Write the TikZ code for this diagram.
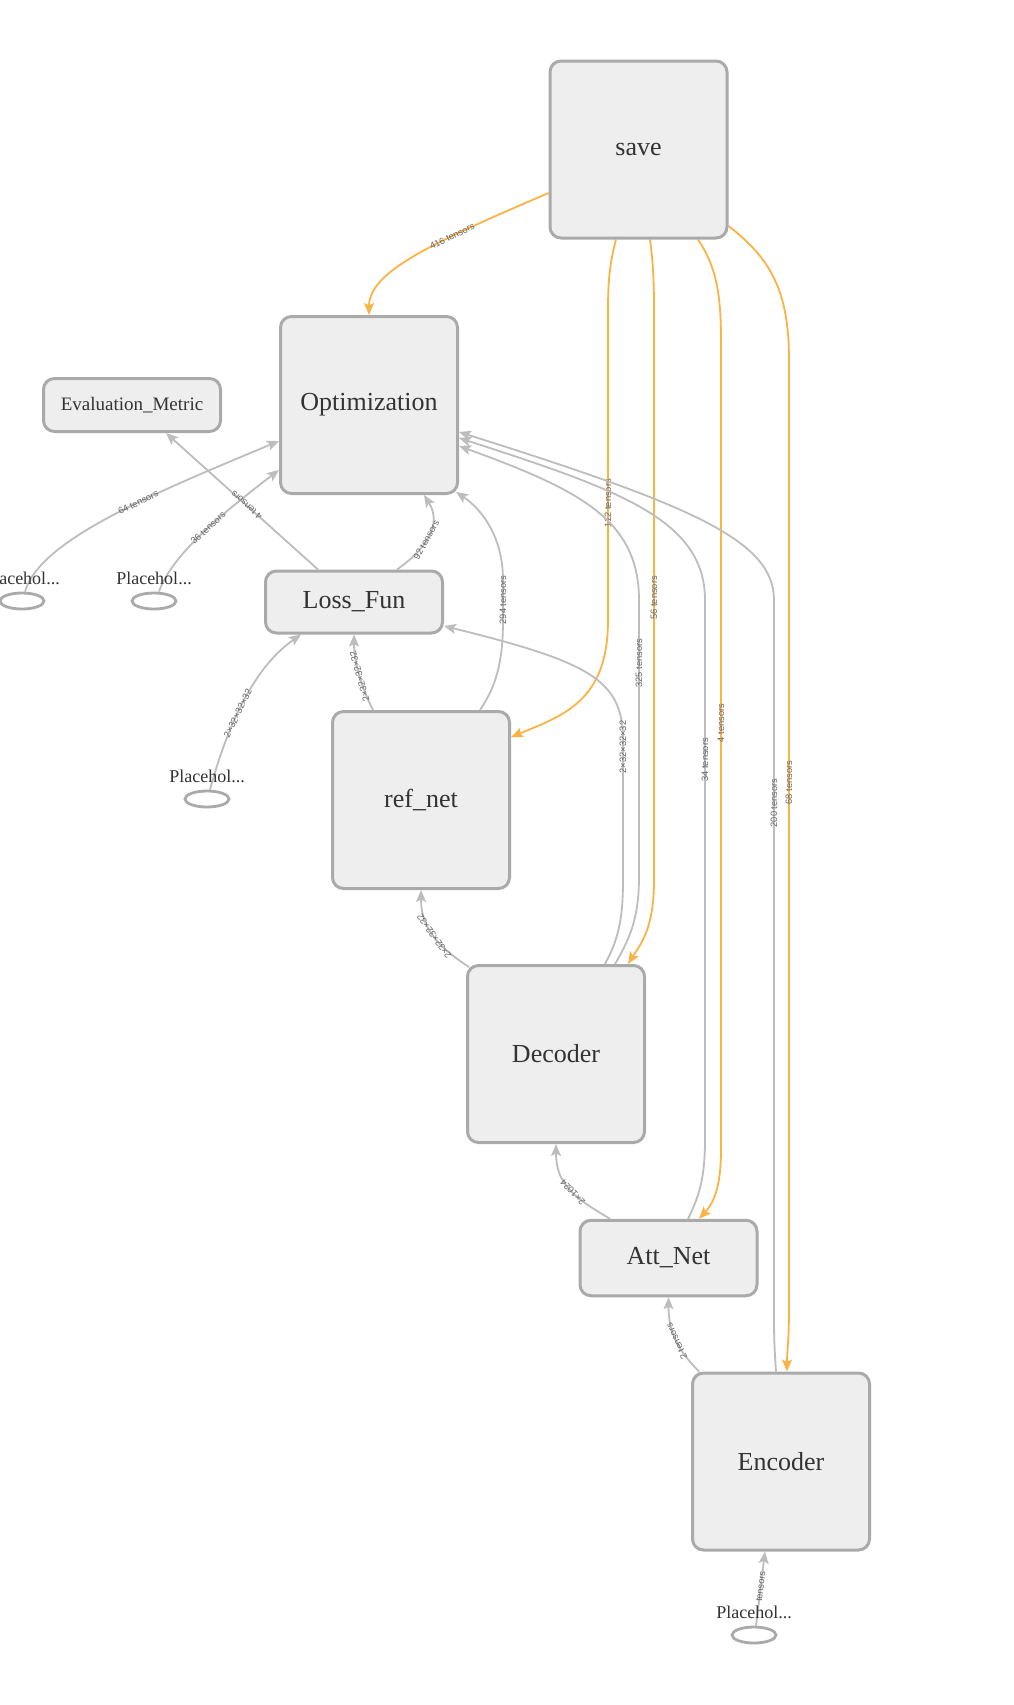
\documentclass[tikz,border=0pt]{standalone}
\usepackage{fontspec}
\setmainfont{Liberation Serif}
\newfontfamily\edgefont{Liberation Sans}
\usetikzlibrary{arrows.meta,shapes.geometric}

\pgfdeclarelayer{bg}
\pgfdeclarelayer{edges}
\pgfsetlayers{bg,edges,main}

\definecolor{boxfill}{HTML}{EEEEEE}
\definecolor{boxline}{HTML}{AAAAAA}
\definecolor{flow}{HTML}{BDBDBD}
\definecolor{refflow}{HTML}{FAB445}
\definecolor{nodetext}{HTML}{333333}
\definecolor{lbltext}{HTML}{666666}

\tikzset{
  opbox/.style={draw=boxline, fill=boxfill, line width=3pt, rounded corners=11pt,
    minimum width=177pt, minimum height=177pt, inner sep=0pt, text=nodetext,
    font=\fontsize{26}{30}\selectfont},
  phshape/.style={ellipse, draw=boxline, fill=white, line width=2.8pt,
    minimum width=44pt, minimum height=16pt, inner sep=0pt},
  phtext/.style={text=nodetext, font=\fontsize{18}{20}\selectfont, inner sep=0pt},
  tipshape/.tip={Stealth[length=12pt,width=10pt,inset=2.5pt]},
  flowedge/.style={draw=flow, line width=1.8pt, -tipshape},
  refedge/.style={draw=refflow, line width=1.8pt, tipshape-},
  lbl/.style={sloped, allow upside down, text=lbltext,
    font=\edgefont\fontsize{9.3}{10}\selectfont, inner sep=0pt},
}

\begin{document}
\begin{tikzpicture}[x=1pt, y=-1pt]
\useasboundingbox (0,0) rectangle (1013,1705);
\begin{pgfonlayer}{bg}
  \fill[white] (0,0) rectangle (1013,1705);
\end{pgfonlayer}

% operation boxes
\node[opbox] (save)   at (638.5,149.5) {save};
\node[opbox] (opt)    at (369,405)     {Optimization};
\node[opbox, minimum height=53pt, font=\fontsize{19}{21}\selectfont]
             (evalm)  at (132,405)     {Evaluation\_Metric};
\node[opbox, minimum height=62pt] (loss) at (354,602) {Loss\_Fun};
\node[opbox] (refnet) at (421,800)     {ref\_net};
\node[opbox] (dec)    at (556,1054)    {Decoder};
\node[opbox, minimum height=75.5pt] (att) at (668.5,1258) {Att\_Net};
\node[opbox] (enc)    at (781,1461.5)  {Encoder};

% placeholders
\node[phshape] (ph1) at (22,601) {};
\node[phtext]  (ph1l) at (22,578) {Placehol...};
\node[phshape] (ph2) at (154,601) {};
\node[phtext]  (ph2l) at (154,578) {Placehol...};
\node[phshape] (ph3) at (207,799) {};
\node[phtext]  (ph3l) at (207,776) {Placehol...};
\node[phshape] (ph4) at (754,1635) {};
\node[phtext]  (ph4l) at (754,1612) {Placehol...};

\begin{pgfonlayer}{edges}
% reference edges into save
\draw[refedge] (opt.north) .. controls (369,270) and (440,240) .. ([yshift=-43.5pt]save.west)
  node[lbl, pos=0.66] {416 tensors};
\draw[refedge] ([yshift=63pt]refnet.east) .. controls (565,715) and (608,700) .. (608,620)
  -- (608,310) node[lbl, pos=0.377] {112 tensors}
  .. controls (608,280) and (610,262) .. ([xshift=-22.5pt]save.south);
\draw[refedge] ([xshift=72pt]dec.north) .. controls (640,945) and (654,930) .. (654,880)
  -- (654,310) node[lbl, pos=0.495] {56 tensors}
  .. controls (654,280) and (653,262) .. ([xshift=11.5pt]save.south);
\draw[refedge] ([xshift=30.5pt]att.north) .. controls (712,1205) and (721,1190) .. (721,1150)
  -- (721,340) node[lbl, pos=0.527] {4 tensors}
  .. controls (721,290) and (715,265) .. ([xshift=59.5pt]save.south);
\draw[refedge] ([xshift=6pt]enc.north) .. controls (787,1350) and (789,1340) .. (789,1310)
  -- (789,360) node[lbl, pos=0.555] {68 tensors}
  .. controls (789,290) and (770,258) .. ([yshift=-76.5pt]save.east);

% data edges
\draw[flowedge] ([xshift=3pt]ph1.north) .. controls (40,540) and (150,495) .. ([yshift=-36pt]opt.west)
  node[lbl, pos=0.6] {64 tensors};
\draw[flowedge] ([xshift=5pt]ph2.north) .. controls (172,555) and (220,515) .. ([yshift=-65pt]opt.west)
  node[lbl, pos=0.55] {36 tensors};
\draw[flowedge] ([xshift=-36pt]loss.north) -- ([xshift=34pt]evalm.south)
  node[lbl, pos=0.47] {4 tensors};
\draw[flowedge] ([xshift=43pt]loss.north) .. controls (425,550) and (443,525) .. ([xshift=55pt]opt.south)
  node[lbl, pos=0.45] {92 tensors};
\draw[flowedge] ([xshift=59pt]refnet.north) .. controls (497,685) and (503,660) .. (503,620)
  -- (503,580) node[lbl, pos=0.5] {294 tensors}
  .. controls (503,535) and (480,508) .. ([xshift=-3pt,yshift=3pt]opt.south east);
\draw[flowedge] ([xshift=3pt]ph3.north) .. controls (225,735) and (250,670) .. ([xshift=-53pt]loss.south)
  node[lbl, pos=0.45] {2×32×32×32};
\draw[flowedge] ([xshift=-48pt]refnet.north) .. controls (360,685) and (354,660) .. (loss.south)
  node[lbl, pos=0.45] {2×32×32×32};
\draw[flowedge] ([xshift=49pt]dec.north) .. controls (618,940) and (623,920) .. (623,880)
  -- (623,740) node[lbl, pos=0.95] {2×32×32×32}
  .. controls (623,680) and (590,662) .. ([yshift=-24pt]loss.east);
\draw[flowedge] ([xshift=59pt]dec.north) .. controls (632,935) and (639,915) .. (639,875)
  -- (639,600) node[lbl, pos=0.77] {325 tensors}
  .. controls (639,520) and (580,490) .. ([yshift=-41pt]opt.east);
\draw[flowedge] ([xshift=19.5pt]att.north) .. controls (700,1195) and (705,1175) .. (705,1140)
  -- (705,600) node[lbl, pos=0.704] {34 tensors}
  .. controls (705,520) and (620,490) .. ([yshift=-33pt]opt.east);
\draw[flowedge] ([xshift=-5pt]enc.north) .. controls (774,1340) .. (774,1300)
  -- (774,600) node[lbl, pos=0.71] {200 tensors}
  .. controls (774,540) and (690,505) .. ([yshift=-27pt]opt.east);
\draw[flowedge] ([xshift=3pt,yshift=-3pt]dec.north west) .. controls (440,948) and (421,930) .. (refnet.south)
  node[lbl, pos=0.5] {2×32×32×32};
\draw[flowedge] ([xshift=-58.5pt]att.north) .. controls (575,1198) and (556,1185) .. (dec.south)
  node[lbl, pos=0.45] {2×1024};
\draw[flowedge] ([xshift=8pt]enc.north west) .. controls (680,1352) and (668.5,1335) .. (att.south)
  node[lbl, pos=0.5] {2 tensors};
\draw[flowedge] ([xshift=2pt]ph4.north) -- ([xshift=-16pt]enc.south)
  node[lbl, pos=0.53] {tensors};
\end{pgfonlayer}
\end{tikzpicture}
\end{document}
